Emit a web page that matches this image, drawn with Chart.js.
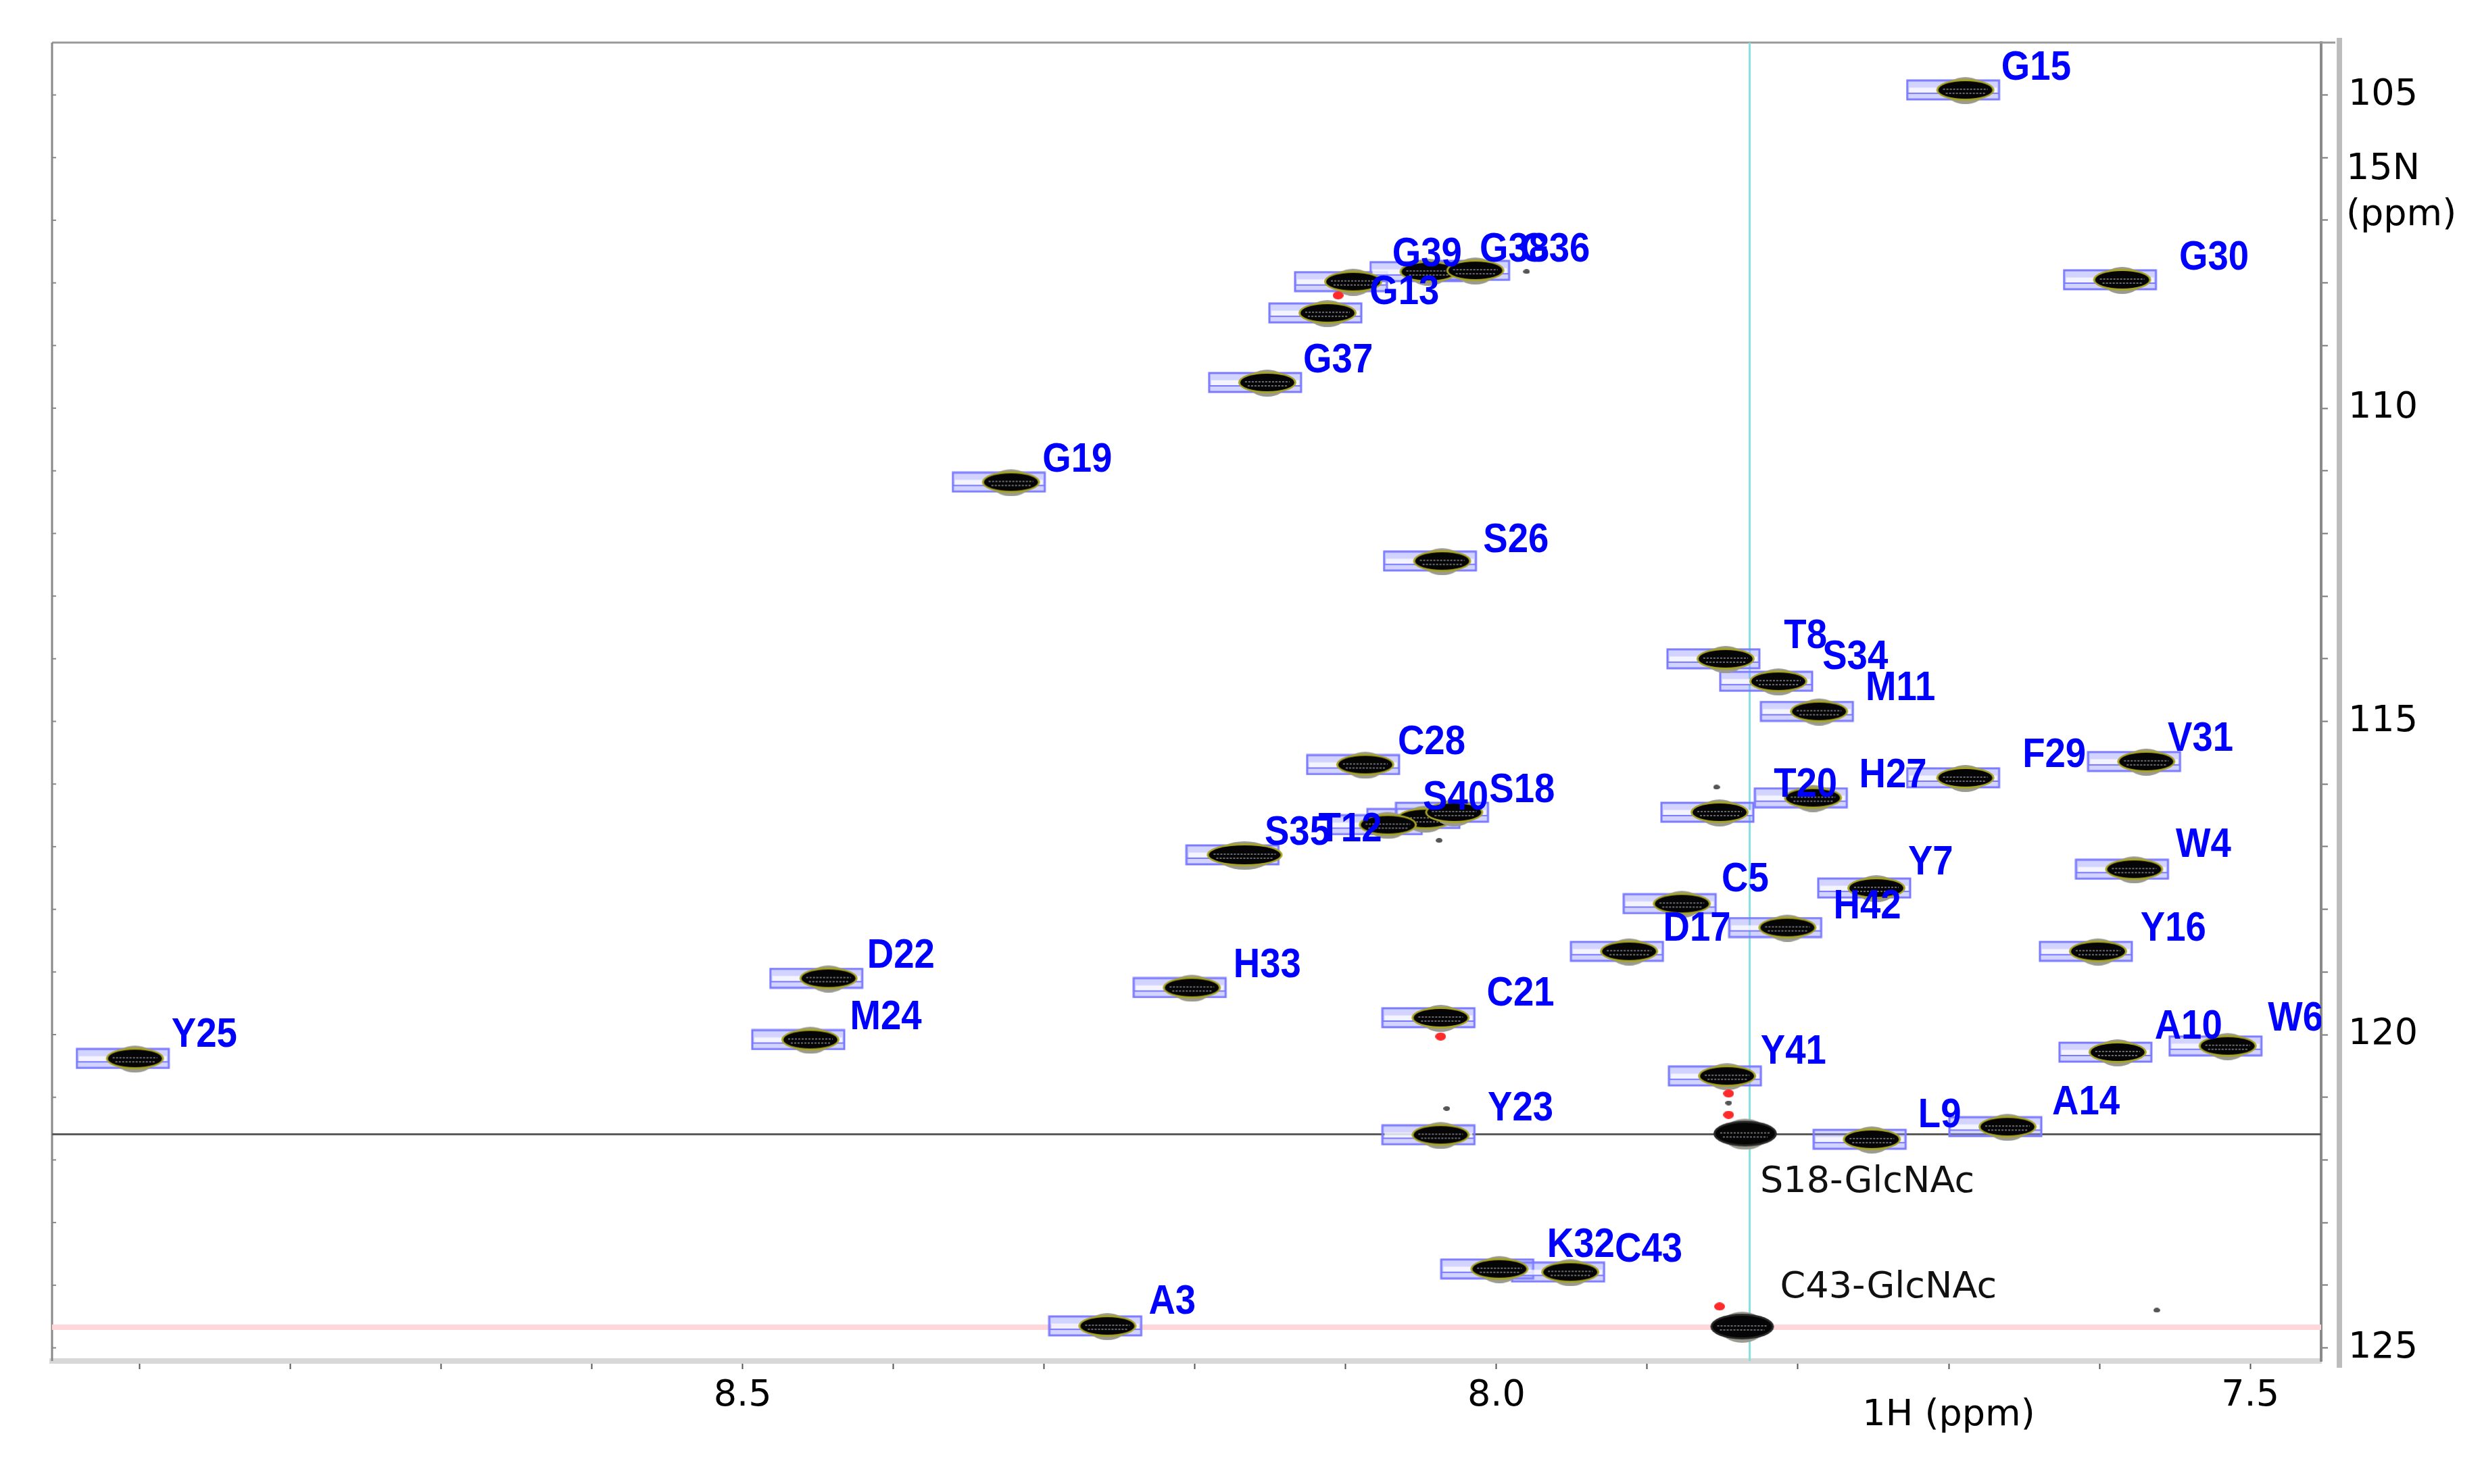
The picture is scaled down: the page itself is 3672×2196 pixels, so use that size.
<!DOCTYPE html>
<html>
<head>
<meta charset="utf-8">
<script src="https://cdn.jsdelivr.net/npm/chart.js@4.4.1/dist/chart.umd.min.js"></script>
<style>
  html, body { margin: 0; padding: 0; background: #fff; }
  #wrap { width: 3672px; height: 2196px; }
</style>
</head>
<body>
<div id="wrap"><canvas id="espectro" width="3672" height="2196"></canvas></div>
<script>
// --- DATOS (ppm) ---
const residuos = ["G15","G30","G39","G13","G38","G36","G37","G19","S26","T8","S34","M11","C28","F29","V31",
    "H27","T20","S40","S18","T12","S35","W4","Y7","C5","H42","D17","Y16","D22","H33","C21","M24","A10","W6",
    "Y25","Y41","A14","Y23","L9","K32","C43","A3"];
const h1 = [7.689, 7.585, 8.095, 8.112, 8.045, 8.014, 8.152, 8.322, 8.036, 7.848, 7.813, 7.786, 8.087, 7.689, 7.569,
    7.790, 7.852, 8.047, 8.028, 8.072, 8.167, 7.577, 7.748, 7.877, 7.807, 7.912, 7.601, 8.443, 8.202, 8.037, 8.455,
    7.588, 7.515, 8.903, 7.847, 7.661, 8.037, 7.751, 7.998, 7.951, 8.258];
const n15 = [104.92, 107.95, 107.98, 108.48, 107.82, 107.80, 109.59, 111.18, 112.44, 114.00, 114.36, 114.84, 115.69, 115.90, 115.64,
    116.22, 116.45, 116.55, 116.45, 116.65, 117.13, 117.36, 117.66, 117.91, 118.29, 118.67, 118.67, 119.10, 119.25, 119.73, 120.08,
    120.28, 120.18, 120.38, 120.66, 121.47, 121.60, 121.67, 123.74, 123.79, 124.65];
// posición de cada etiqueta (ppm)
const etiquetaH = [7.642, 7.524, 8.046, 8.061, 7.988, 7.961, 8.105, 8.278, 7.987, 7.795, 7.762, 7.732, 8.043, 7.630, 7.533,
    7.737, 7.795, 8.027, 7.983, 8.097, 8.132, 7.531, 7.712, 7.835, 7.754, 7.867, 7.551, 8.395, 8.152, 7.984, 8.405,
    7.541, 7.470, 8.857, 7.803, 7.609, 7.984, 7.706, 7.944, 7.899, 8.215];
const etiquetaN = [104.57, 107.60, 107.55, 108.15, 107.47, 107.47, 109.24, 110.83, 112.11, 113.65, 113.98, 114.48, 115.34, 115.54, 115.29,
    115.87, 116.02, 116.22, 116.10, 116.73, 116.78, 116.98, 117.26, 117.53, 117.96, 118.32, 118.32, 118.75, 118.90, 119.35, 119.73,
    119.88, 119.75, 120.01, 120.28, 121.09, 121.19, 121.29, 123.36, 123.44, 124.27];

// picos glicosilados (sin caja)
const glcNombres = ["S18-GlcNAc", "C43-GlcNAc"];
const glcH = [7.835, 7.837];
const glcN = [121.58, 124.66];
const glcEtiquetaH = [7.754, 7.740];
const glcEtiquetaN = [122.36, 124.05];

// contornos negativos y ruido
const negH = [8.105, 8.037, 7.846, 7.846, 7.852];
const negN = [108.20, 120.03, 120.94, 121.28, 124.34];
const ruidoH = [7.846, 8.038, 7.854, 8.033, 7.562, 7.980];
const ruidoN = [121.09, 116.90, 116.05, 121.18, 124.40, 107.82];

// cursores
const cursorH = 7.832;
const cursorN = 121.59;
const cursorNRosa = 124.67;

// ejes
const xMin = 7.453, xMax = 8.958;
const yMin = 104.164, yMax = 125.21;
const xTicks = [8.9, 8.8, 8.7, 8.6, 8.5, 8.4, 8.3, 8.2, 8.1, 8.0, 7.9, 7.8, 7.7, 7.6, 7.5];
const xEtiquetas = [8.5, 8.0, 7.5];
const yTicks = [105, 106, 107, 108, 109, 110, 111, 112, 113, 114, 115, 116, 117, 118, 119, 120, 121, 122, 123, 124, 125];
const yEtiquetas = [105, 110, 115, 120, 125];

// --- ESTILOS DE PUNTO ---
function crearPico(w, h, anillo) {
    const c = document.createElement("canvas");
    c.width = w + 4; c.height = h + 10;
    const g = c.getContext("2d");
    const cx = c.width / 2, cy = c.height / 2;
    g.fillStyle = "#9a9a90";
    g.beginPath(); g.ellipse(cx, cy + 1, w / 2 - 14, h / 2 + 4, 0, 0, Math.PI * 2); g.fill();
    g.fillStyle = anillo;
    g.beginPath(); g.ellipse(cx, cy, w / 2, h / 2, 0, 0, Math.PI * 2); g.fill();
    g.fillStyle = "#050505";
    g.beginPath(); g.ellipse(cx, cy, w / 2 - 3, h / 2 - 3, 0, 0, Math.PI * 2); g.fill();
    g.strokeStyle = "#6a6a72";
    g.lineWidth = 2;
    g.setLineDash([3, 2]);
    g.beginPath();
    g.moveTo(cx - w / 2 + 10, cy - 1); g.lineTo(cx + w / 2 - 10, cy - 1);
    g.moveTo(cx - w / 2 + 14, cy + 5); g.lineTo(cx + w / 2 - 14, cy + 5);
    g.stroke();
    return c;
}

function crearCaja(w, h, desplazamiento) {
    // la caja queda a la izquierda del centro del pico
    const c = document.createElement("canvas");
    c.width = w + 4 + 2 * desplazamiento; c.height = h + 4;
    const g = c.getContext("2d");
    const x0 = 2;
    g.fillStyle = "rgba(140,140,255,0.38)";
    g.fillRect(x0, 2, w, h);
    g.fillStyle = "rgba(255,255,255,0.75)";
    g.fillRect(x0 + 3, 2 + h * 0.38, w - 6, h * 0.26);
    g.strokeStyle = "#7a7aff";
    g.lineWidth = 3;
    g.strokeRect(x0, 2, w, h);
    g.lineWidth = 2;
    g.beginPath(); g.moveTo(x0, 2 + h * 0.68); g.lineTo(x0 + w, 2 + h * 0.68); g.stroke();
    return c;
}

function crearMancha(w, h, color) {
    const c = document.createElement("canvas");
    c.width = w; c.height = h;
    const g = c.getContext("2d");
    g.fillStyle = color;
    g.beginPath(); g.ellipse(w / 2, h / 2, w / 2, h / 2, 0, 0, Math.PI * 2); g.fill();
    return c;
}

const picoNormal = crearPico(86, 32, "#a8a424");
const picoAncho = crearPico(112, 34, "#a8a424");
const picoGlc = crearPico(94, 38, "#2a2a2a");
const caja = crearCaja(136, 28, 18);
const manchaRoja = crearMancha(16, 12, "#ff2a2a");
const manchaGris = crearMancha(10, 7, "#555");
const anchos = ["S35"];

const puntos = h1.map((h, i) => ({ x: h, y: n15[i] }));

// --- PLUGINS ---
const marco = {
    id: "marco",
    beforeDatasetsDraw(chart) {
        const a = chart.chartArea, g = chart.ctx, ys = chart.scales.y;
        g.save();
        g.strokeStyle = "#9a9a9a";
        g.lineWidth = 3;
        g.beginPath();
        g.moveTo(a.left, a.top); g.lineTo(a.right + 21, a.top);
        g.stroke();
        g.strokeStyle = "#888";
        g.beginPath();
        g.moveTo(a.left, a.top); g.lineTo(a.left, a.bottom);
        g.stroke();
        g.lineWidth = 2;
        yTicks.forEach(v => {
            const y = ys.getPixelForValue(v);
            g.beginPath(); g.moveTo(a.left, y); g.lineTo(a.left + 6, y); g.stroke();
        });
        g.strokeStyle = "#bdbdbd";
        g.lineWidth = 8;
        g.beginPath();
        g.moveTo(a.right + 27, a.top - 7); g.lineTo(a.right + 27, a.bottom + 10);
        g.stroke();
        g.restore();
    }
};

const etiquetas = {
    id: "etiquetas",
    afterDatasetsDraw(chart) {
        const a = chart.chartArea, g = chart.ctx, xs = chart.scales.x, ys = chart.scales.y;
        g.save();
        g.beginPath();
        g.rect(a.left, a.top, a.right - a.left, a.bottom - a.top);
        g.clip();
        g.textAlign = "center";
        g.textBaseline = "middle";
        g.fillStyle = "#0000ff";
        g.font = "bold 62px 'Liberation Sans', Arial, sans-serif";
        residuos.forEach((r, i) => {
            g.save();
            g.translate(xs.getPixelForValue(etiquetaH[i]), ys.getPixelForValue(etiquetaN[i]));
            g.scale(0.88, 1);
            g.fillText(r, 0, 0);
            g.restore();
        });
        g.fillStyle = "#111";
        g.font = "54px 'DejaVu Sans', sans-serif";
        glcNombres.forEach((r, i) => {
            g.fillText(r, xs.getPixelForValue(glcEtiquetaH[i]), ys.getPixelForValue(glcEtiquetaN[i]));
        });
        g.restore();
    }
};

const titulos = {
    id: "titulos",
    afterDraw(chart) {
        const a = chart.chartArea, g = chart.ctx, xs = chart.scales.x, ys = chart.scales.y;
        g.save();
        g.fillStyle = "#000";
        g.font = "54px 'DejaVu Sans', sans-serif";
        g.textBaseline = "middle";
        g.textAlign = "center";
        g.fillText("1H (ppm)", xs.getPixelForValue(7.700), a.bottom + 81);
        g.textAlign = "left";
        g.fillText("15N", a.right + 37, ys.getPixelForValue(106.19));
        g.fillText("(ppm)", a.right + 37, ys.getPixelForValue(106.92));
        g.restore();
    }
};

// --- GRÁFICA ---
const fuenteEje = { family: "'DejaVu Sans', sans-serif", size: 54 };

new Chart(document.getElementById("espectro"), {
    type: "scatter",
    data: {
        datasets: [
            {
                label: "cursor H",
                data: [{ x: cursorH, y: yMin }, { x: cursorH, y: yMax }],
                showLine: true, borderColor: "#86e0e0", borderWidth: 3, pointRadius: 0, order: 10
            },
            {
                label: "cursor N",
                data: [{ x: xMin, y: cursorN }, { x: xMax, y: cursorN }],
                showLine: true, borderColor: "#5a5a5a", borderWidth: 3, pointRadius: 0, order: 10
            },
            {
                label: "cursor N2",
                data: [{ x: xMin, y: cursorNRosa }, { x: xMax, y: cursorNRosa }],
                showLine: true, borderColor: "#ffd6d9", borderWidth: 8, pointRadius: 0, order: 11
            },
            {
                label: "cajas",
                data: puntos,
                pointStyle: caja, pointRadius: 20, order: 6
            },
            {
                label: "picos",
                data: puntos,
                pointStyle: (ctx) => anchos.includes(residuos[ctx.dataIndex]) ? picoAncho : picoNormal,
                pointRadius: 20, order: 5
            },
            {
                label: "glcnac",
                data: glcH.map((h, i) => ({ x: h, y: glcN[i] })),
                pointStyle: picoGlc, pointRadius: 20, order: 4
            },
            {
                label: "negativos",
                data: negH.map((h, i) => ({ x: h, y: negN[i] })),
                pointStyle: manchaRoja, pointRadius: 5, order: 3
            },
            {
                label: "ruido",
                data: ruidoH.map((h, i) => ({ x: h, y: ruidoN[i] })),
                pointStyle: manchaGris, pointRadius: 4, order: 3
            }
        ]
    },
    options: {
        responsive: false,
        animation: false,
        events: [],
        layout: { padding: { left: 77, top: 63, right: 0, bottom: 0 } },
        plugins: { legend: { display: false }, tooltip: { enabled: false } },
        scales: {
            x: {
                type: "linear", position: "bottom", reverse: true, min: xMin, max: xMax,
                afterBuildTicks: (s) => { s.ticks = xTicks.map(v => ({ value: v })); },
                afterFit: (s) => { s.height = 182; },
                ticks: {
                    autoSkip: false, maxRotation: 0, padding: 8, color: "#000", font: fuenteEje,
                    callback: (v) => xEtiquetas.includes(Math.round(v * 10) / 10) ? v.toFixed(1) : ""
                },
                grid: { drawOnChartArea: false, tickLength: 12, tickColor: "#555", tickWidth: 2 },
                border: { display: true, color: "#d8d8d8", width: 8 }
            },
            y: {
                type: "linear", position: "right", reverse: true, min: yMin, max: yMax,
                afterBuildTicks: (s) => { s.ticks = yTicks.map(v => ({ value: v })); },
                afterFit: (s) => { s.width = 238; },
                ticks: {
                    autoSkip: false, padding: 30, color: "#000", font: fuenteEje,
                    callback: (v) => yEtiquetas.includes(v) ? String(v) : ""
                },
                grid: { drawOnChartArea: false, tickLength: 10, tickColor: "#777", tickWidth: 2 },
                border: { display: true, color: "#8a8a8a", width: 4 }
            }
        }
    },
    plugins: [marco, etiquetas, titulos]
});
</script>
</body>
</html>
